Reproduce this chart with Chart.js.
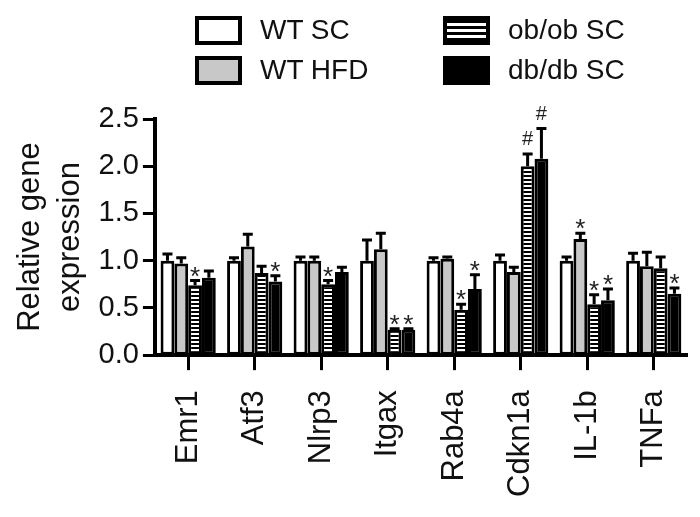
<!DOCTYPE html>
<html>
<head>
<meta charset="utf-8">
<script src="https://cdn.jsdelivr.net/npm/chart.js@4/dist/chart.umd.min.js"></script>
<style>
body{margin:0;background:#fff;}
#wrap{position:relative;width:700px;height:517px;font-family:"Liberation Sans",Arial,sans-serif;}
.lg{position:absolute;display:flex;align-items:center;font-size:28px;color:#111;}
.box{width:39px;height:21px;border:4px solid #000;margin-right:18px;box-sizing:content-box;}
</style>
</head>
<body>
<div id="wrap">
<canvas id="c" width="700" height="517"></canvas>
<div class="lg" style="left:195px;top:14px;"><div class="box" style="background:#fff"></div>WT SC</div>
<div class="lg" style="left:195px;top:54px;"><div class="box" style="background:#c8c8c8"></div>WT HFD</div>
<div class="lg" style="left:443px;top:14px;"><div class="box" style="background:repeating-linear-gradient(#000 0 3px,#fff 3px 6px)"></div>ob/ob SC</div>
<div class="lg" style="left:443px;top:54px;"><div class="box" style="background:#000"></div>db/db SC</div>
</div>
<script>
const genes = ["Emr1","Atf3","Nlrp3","Itgax","Rab4a","Cdkn1a","IL-1b","TNFa"];

const wtSC     = [1.00,1.00,1.00,1.00,1.00,1.00,1.00,1.00];
const wtSCErr  = [0.07,0.03,0.04,0.22,0.03,0.06,0.04,0.08];
const wtHFD    = [0.97,1.15,1.00,1.12,1.02,0.88,1.23,0.94];
const wtHFDErr = [0.06,0.13,0.04,0.17,0.02,0.05,0.06,0.15];
const obob     = [0.74,0.87,0.75,0.27,0.48,2.00,0.54,0.92];
const obobErr  = [0.05,0.07,0.04,0.01,0.06,0.13,0.10,0.12];
const dbdb     = [0.82,0.78,0.88,0.27,0.70,2.08,0.58,0.65];
const dbdbErr  = [0.07,0.06,0.05,0.01,0.15,0.32,0.12,0.06];

// significance marks per bar
const wtSCSig  = ["","","","","","","",""];
const wtHFDSig = ["","","","","","","*",""];
const obobSig  = ["*","","*","*","*","#","*",""];
const dbdbSig  = ["","*","","*","*","#","*","*"];

const FONT = "'Liberation Sans', Arial, sans-serif";

function stripes(){
    const p = document.createElement('canvas');
    p.width = 4; p.height = 4;
    const g = p.getContext('2d');
    g.fillStyle = '#000'; g.fillRect(0,0,4,4);
    g.fillStyle = '#fff'; g.fillRect(0,1,4,2);
    return g.createPattern(p,'repeat');
}

const errorBars = {
    id:'errorBars',
    afterDatasetsDraw(chart){
        const ctx = chart.ctx;
        const y = chart.scales.y;
        chart.data.datasets.forEach((ds,i) => {
            const meta = chart.getDatasetMeta(i);
            meta.data.forEach((bar,j) => {
                const v = ds.data[j], e = ds.err[j];
                const top = y.getPixelForValue(v+e);
                ctx.save();
                ctx.strokeStyle = '#000';
                ctx.lineWidth = 3;
                ctx.beginPath();
                ctx.moveTo(bar.x, bar.y);
                ctx.lineTo(bar.x, top);
                ctx.moveTo(bar.x-5, top);
                ctx.lineTo(bar.x+5, top);
                ctx.stroke();
                const s = ds.sig[j];
                if (s) {
                    ctx.fillStyle = '#222';
                    ctx.textAlign = 'center';
                    ctx.textBaseline = 'bottom';
                    ctx.font = (s === '#' ? '20px ' : '26px ') + FONT;
                    ctx.fillText(s, bar.x, top + (s === '#' ? -4 : 10));
                }
                ctx.restore();
            });
        });
    }
};

new Chart(document.getElementById('c'), {
    type:'bar',
    data:{
        labels:genes,
        datasets:[
            {label:'WT SC', data:wtSC, err:wtSCErr, sig:wtSCSig, backgroundColor:'#fff'},
            {label:'WT HFD', data:wtHFD, err:wtHFDErr, sig:wtHFDSig, backgroundColor:'#c8c8c8'},
            {label:'ob/ob SC', data:obob, err:obobErr, sig:obobSig, backgroundColor:stripes()},
            {label:'db/db SC', data:dbdb, err:dbdbErr, sig:dbdbSig, backgroundColor:'#000'}
        ].map(d => Object.assign(d, {
            borderColor:'#000', borderWidth:3, borderSkipped:false,
            categoryPercentage:0.83, barPercentage:1.0
        }))
    },
    options:{
        responsive:false,
        animation:false,
        layout:{padding:{top:119,right:13,bottom:0,left:10}},
        plugins:{
            legend:{display:false},
            tooltip:{enabled:false}
        },
        scales:{
            x:{
                offset:true,
                afterFit:s => { s.paddingRight = 0; s.paddingLeft = 0; },
                grid:{offset:false, drawOnChartArea:false, drawTicks:true, tickLength:15, tickWidth:3, tickColor:'#000'},
                border:{display:true, color:'#000', width:4},
                ticks:{color:'#111', maxRotation:90, minRotation:90, padding:20, font:{family:FONT, size:31}}
            },
            y:{
                min:0, max:2.5,
                grid:{drawOnChartArea:false, drawTicks:true, tickLength:12, tickWidth:3, tickColor:'#000'},
                border:{display:true, color:'#000', width:4},
                ticks:{stepSize:0.5, color:'#111', padding:4, font:{family:FONT, size:29},
                       callback:v => v.toFixed(1)},
                title:{display:true, text:['Relative gene','expression'], color:'#111',
                       font:{family:FONT, size:31, lineHeight:1.3}, padding:{top:0,bottom:4}}
            }
        }
    },
    plugins:[errorBars]
});
</script>
</body>
</html>
